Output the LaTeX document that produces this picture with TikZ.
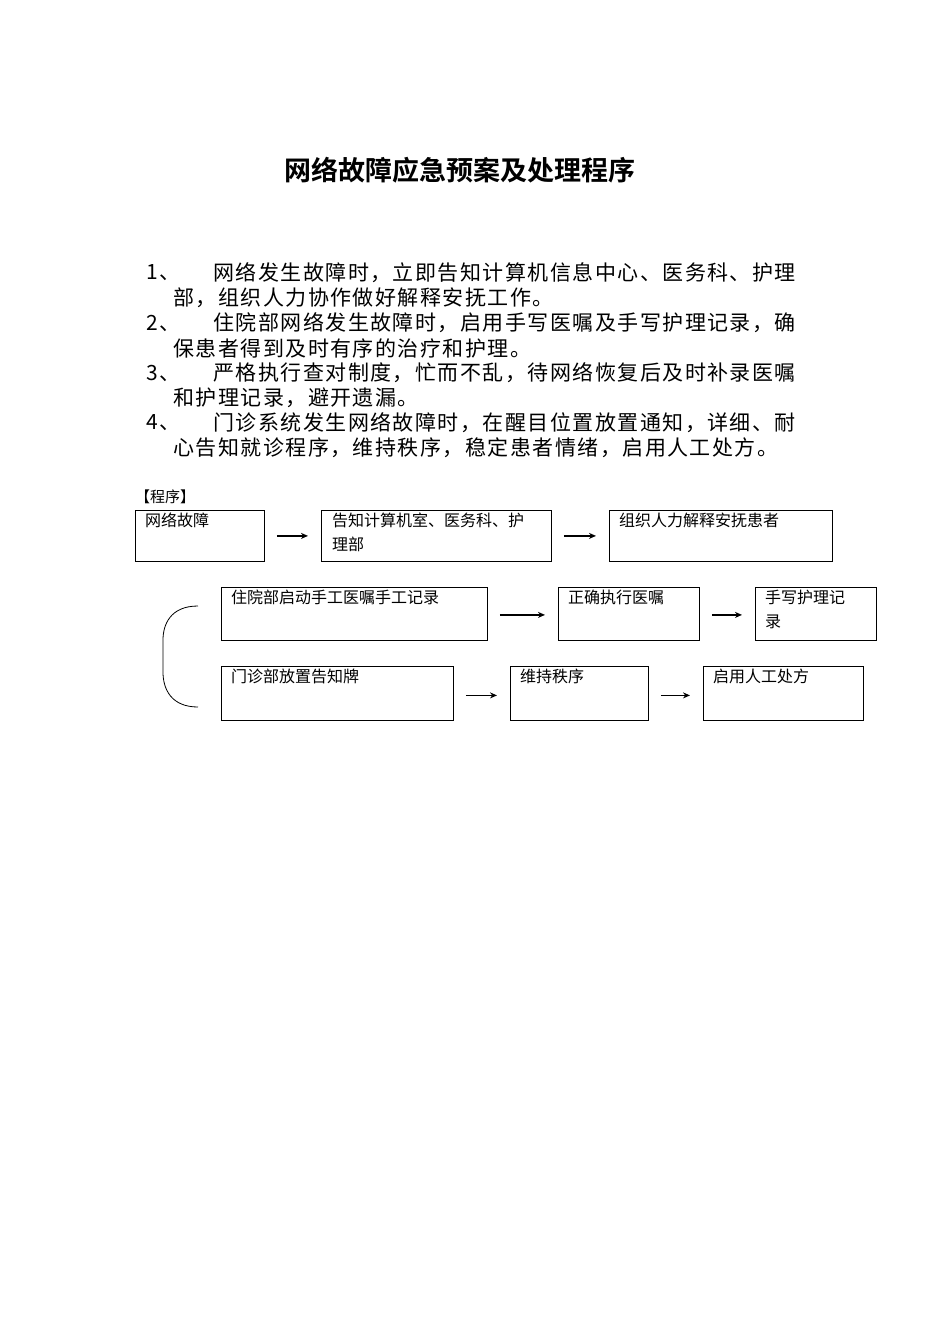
\documentclass[tikz,border=0pt]{standalone}
\usepackage{fontspec}
\setmainfont{Noto Sans CJK SC}
\newfontfamily\cjkp[LetterSpace=7]{Noto Sans CJK SC}
\newfontfamily\cjkt[BoldFont={Noto Sans CJK SC Bold}]{Noto Sans CJK SC}
\usetikzlibrary{arrows.meta}
\begin{document}
\begin{tikzpicture}[x=1pt,y=-1pt,
  box/.style={draw,line width=0.8pt,inner sep=0pt},
  bt/.style={anchor=north west,inner sep=0pt,font=\fontsize{16}{24}\selectfont,align=left},
  para/.style={anchor=west,inner sep=0pt,font=\cjkp\fontsize{21}{25}\selectfont},
  arr/.style={-{Stealth[length=7pt,width=6pt]},line width=1.4pt,shorten <=12pt,shorten >=13pt}]
\useasboundingbox (0,0) rectangle (950,1344);
\node[inner sep=0pt,font=\cjkt\bfseries\fontsize{27}{30}\selectfont] (title) at (460,170) {网络故障应急预案及处理程序};
\node[para] (n1) at (146,273) {1、};
\node[para] (l1) at (213,273) {网络发生故障时，立即告知计算机信息中心、医务科、护理};
\node[para] (l1b) at (173,298) {部，组织人力协作做好解释安抚工作。};
\node[para] (n2) at (146,323) {2、};
\node[para] (l2) at (213,323) {住院部网络发生故障时，启用手写医嘱及手写护理记录，确};
\node[para] (l2b) at (173,348) {保患者得到及时有序的治疗和护理。};
\node[para] (n3) at (146,373) {3、};
\node[para] (l3) at (213,373) {严格执行查对制度，忙而不乱，待网络恢复后及时补录医嘱};
\node[para] (l3b) at (173,398) {和护理记录，避开遗漏。};
\node[para] (n4) at (146,423) {4、};
\node[para] (l4) at (213,423) {门诊系统发生网络故障时，在醒目位置放置通知，详细、耐};
\node[para] (l4b) at (173,448) {心告知就诊程序，维持秩序，稳定患者情绪，启用人工处方。};
\node[anchor=west,inner sep=0pt,font=\fontsize{15}{18}\selectfont] (prog) at (135,497) {【程序】};
% boxes
\node[box,minimum width=129pt,minimum height=51pt,anchor=north west] (b1) at (135,510) {};
\node[box,minimum width=230pt,minimum height=51pt,anchor=north west] (b2) at (321,510) {};
\node[box,minimum width=223pt,minimum height=51pt,anchor=north west] (b3) at (609,510) {};
\node[box,minimum width=266pt,minimum height=53pt,anchor=north west] (c1) at (221,587) {};
\node[box,minimum width=141pt,minimum height=53pt,anchor=north west] (c2) at (558,587) {};
\node[box,minimum width=121pt,minimum height=53pt,anchor=north west] (c3) at (755,587) {};
\node[box,minimum width=232pt,minimum height=54pt,anchor=north west] (d1) at (221,666) {};
\node[box,minimum width=138pt,minimum height=54pt,anchor=north west] (d2) at (510,666) {};
\node[box,minimum width=160pt,minimum height=54pt,anchor=north west] (d3) at (703,666) {};
% texts
\node[bt] (tb1) at (145,513) {网络故障};
\node[bt] (tb2) at (332,513) {告知计算机室、医务科、护\\理部};
\node[bt] (tb3) at (619,513) {组织人力解释安抚患者};
\node[bt] (tc1) at (231,590) {住院部启动手工医嘱手工记录};
\node[bt] (tc2) at (568,590) {正确执行医嘱};
\node[bt] (tc3) at (765,590) {手写护理记\\录};
\node[bt] (td1) at (231,669) {门诊部放置告知牌};
\node[bt] (td2) at (520,669) {维持秩序};
\node[bt] (td3) at (713,669) {启用人工处方};
% arrows
\draw[arr] (b1.east) -- (b2.west);
\draw[arr] (b2.east) -- (b3.west);
\draw[arr] ([yshift=-1pt]c1.east) -- ([yshift=-1pt]c2.west);
\draw[arr] ([yshift=-1pt]c2.east) -- ([yshift=-1pt]c3.west);
\draw[arr] ([yshift=-2pt]d1.east) -- ([yshift=-2pt]d2.west);
\draw[arr] ([yshift=-2pt]d2.east) -- ([yshift=-2pt]d3.west);
% bracket
\coordinate (bt1) at (198,606);
\coordinate (bt2) at (198,707);
\draw[line width=0.8pt] (bt1) .. controls (170,606) and (163,625) .. (163,640) -- (163,672) .. controls (163,690) and (172,707) .. (bt2);
\end{tikzpicture}
\end{document}
